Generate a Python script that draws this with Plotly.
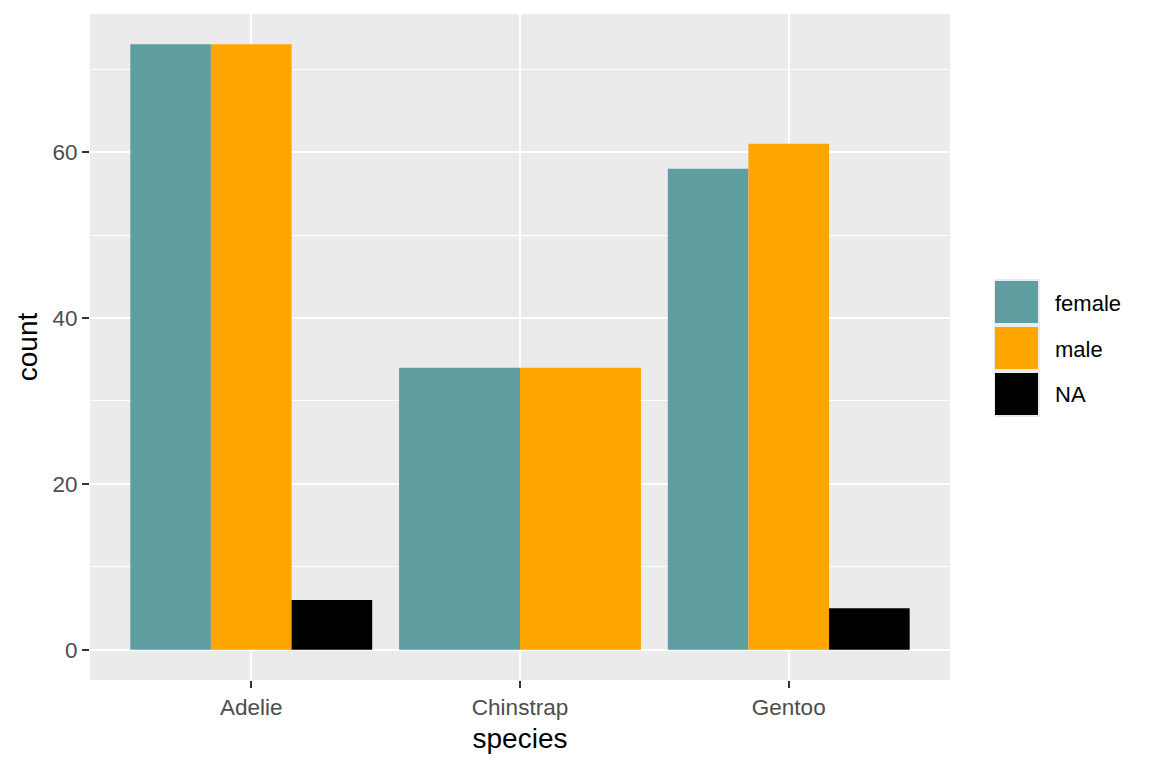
import plotly.graph_objects as go

species = ["Adelie", "Chinstrap", "Gentoo"]
sexes = ["female", "male", "NA"]
counts = {
    "female": [73, 34, 58],
    "male": [73, 34, 61],
    "NA": [6, 0, 5],
}
colors = {"female": "#5F9EA0", "male": "#FFA500", "NA": "#000000"}

y_major = [0, 20, 40, 60]
y_minor = [10, 30, 50, 70]

# Dodge positions like ggplot2 position_dodge (total width 0.9 split among present groups)
fig = go.Figure()
present = [[s for s in sexes if counts[s][i] > 0] for i in range(len(species))]
for s in sexes:
    xs, ys, ws = [], [], []
    for i, sp in enumerate(species):
        if counts[s][i] <= 0:
            continue
        grp = present[i]
        n = len(grp)
        w = 0.9 / n
        k = grp.index(s)
        xs.append(i + 1 - 0.45 + w * (k + 0.5))
        ys.append(counts[s][i])
        ws.append(w)
    fig.add_trace(go.Bar(x=xs, y=ys, width=ws, name=s, marker=dict(color=colors[s], line=dict(width=0)),
                         showlegend=False))

ymax = max(max(v) for v in counts.values())
pad = ymax * 0.05

# page has an 8px body margin; plot panel on page: x 90..950, y 14..680
OFF = 8
fig.update_layout(
    width=1152, height=768,
    barmode="overlay",
    paper_bgcolor="white",
    plot_bgcolor="#EBEBEB",
    margin=dict(l=90 - OFF, r=1152 - 950 + OFF, t=14 - OFF, b=768 - 680 + OFF),
    font=dict(family="Liberation Sans, Arial, sans-serif"),
    xaxis=dict(
        range=[0.4, len(species) + 0.6],
        tickvals=list(range(1, len(species) + 1)),
        ticktext=species,
        showgrid=True, gridcolor="white", gridwidth=2,
        zeroline=False,
        ticks="outside", ticklen=7, tickwidth=2, tickcolor="#333333",
        tickfont=dict(size=22.5, color="#4D4D4D"),
        title=dict(text="species", font=dict(size=28, color="black"), standoff=9),
    ),
    yaxis=dict(
        range=[-pad, ymax + pad],
        tickvals=y_major,
        showgrid=True, gridcolor="white", gridwidth=2,
        zeroline=False,
        minor=dict(tickvals=y_minor, showgrid=True, gridcolor="white", gridwidth=1, ticks=""),
        ticks="outside", ticklen=7, tickwidth=2, tickcolor="#333333",
        tickfont=dict(size=22.5, color="#4D4D4D"),
        title=dict(text="count", font=dict(size=28, color="black"), standoff=6),
    ),
)

# Custom ggplot-style legend (paper coordinates relative to the plot panel)
L, R, T, B = 90, 950, 14, 680
pw, ph = R - L, B - T
def px2x(px):
    return (px - L) / pw
def py2y(py):
    return (B - py) / ph

key_x0, key_x1 = 994, 1040
key_top = 279
key_h = 46
for j, s in enumerate(sexes):
    y0 = key_top + j * key_h
    fig.add_shape(type="rect", xref="paper", yref="paper",
                  x0=px2x(key_x0), x1=px2x(key_x1), y0=py2y(y0 + key_h), y1=py2y(y0),
                  fillcolor="#EBEBEB", line=dict(width=0), layer="above")
    fig.add_shape(type="rect", xref="paper", yref="paper",
                  x0=px2x(key_x0 + 1), x1=px2x(key_x1 - 2), y0=py2y(y0 + key_h - 2), y1=py2y(y0 + 2),
                  fillcolor=colors[s], line=dict(width=0), layer="above")
    fig.add_annotation(xref="paper", yref="paper", x=px2x(1053), y=py2y(y0 + key_h / 2 + 1),
                       text=s, showarrow=False, xanchor="left", yanchor="middle",
                       font=dict(size=22, color="black"))

fig.write_html("out.html")
